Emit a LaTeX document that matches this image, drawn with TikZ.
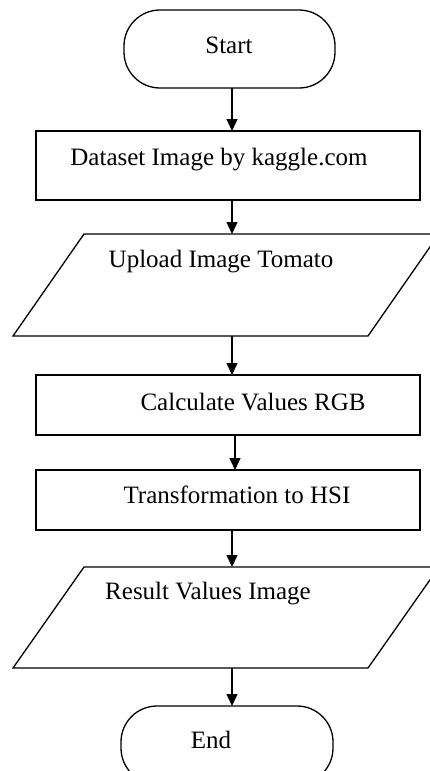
\documentclass[tikz,border=0pt]{standalone}
\usepackage{fontspec}
\setmainfont{Liberation Serif}
\usetikzlibrary{arrows.meta}
\begin{document}
\begin{tikzpicture}[x=1pt,y=-1pt,
  shp/.style={draw=black,line width=1.3pt,inner sep=0pt,outer sep=0pt},
  term/.style={shp,rectangle,rounded corners=36pt},
  proc/.style={shp,rectangle,minimum width=384pt},
  iobox/.style={rectangle,inner sep=0pt,outer sep=0pt,minimum width=426pt},
  para/.style={line width=1.3pt,line join=miter},
  lbl/.style={anchor=base,font=\fontsize{25}{30}\selectfont,inner sep=0pt},
  arr/.style={line width=1.3pt,-{Triangle[width=11pt,length=12pt]}}]
\useasboundingbox (0,0) rectangle (430,771);
\clip (0,0) rectangle (430,771);
\fill[white] (0,0) rectangle (430,771);
\node[term,minimum width=211pt,minimum height=78pt] (start) at (229.5,49) {};
\node[proc,minimum height=69pt] (box1) at (228,165.5) {};
\node[iobox,minimum height=102pt] (par1) at (226,285) {};
\draw[para] (par1.south west) -- ++(71,-102) -- (par1.north east) -- ++(-71,102) -- cycle;
\node[proc,minimum height=60pt] (box2) at (228,405) {};
\node[proc,minimum height=60pt] (box3) at (228,500) {};
\node[iobox,minimum height=101pt] (par2) at (226,617.5) {};
\draw[para] (par2.south west) -- ++(71,-101) -- (par2.north east) -- ++(-71,101) -- cycle;
\node[term,minimum width=212pt,minimum height=78pt] (end) at (227,745) {};
\node[lbl] (t1) at (229,53) {Start};
\node[lbl] (t2) at (219,165) {Dataset Image by kaggle.com};
\node[lbl] (t3) at (221,267) {Upload Image Tomato};
\node[lbl] (t4) at (253,410) {Calculate Values RGB};
\node[lbl] (t5) at (237,503) {Transformation to HSI};
\node[lbl] (t6) at (208,599) {Result Values Image};
\node[lbl] (t7) at (211,748) {End};
\coordinate (ax) at (232,0);
\coordinate (bx) at (235,0);
\draw[arr] (start.south -| ax) -- (box1.north -| ax);
\draw[arr] (box1.south -| ax) -- (par1.north -| ax);
\draw[arr] (par1.south -| ax) -- (box2.north -| ax);
\draw[arr] (box2.south -| bx) -- (box3.north -| bx);
\draw[arr] (box3.south -| ax) -- (par2.north -| ax);
\draw[arr] (par2.south -| ax) -- (end.north -| ax);
\end{tikzpicture}
\end{document}
